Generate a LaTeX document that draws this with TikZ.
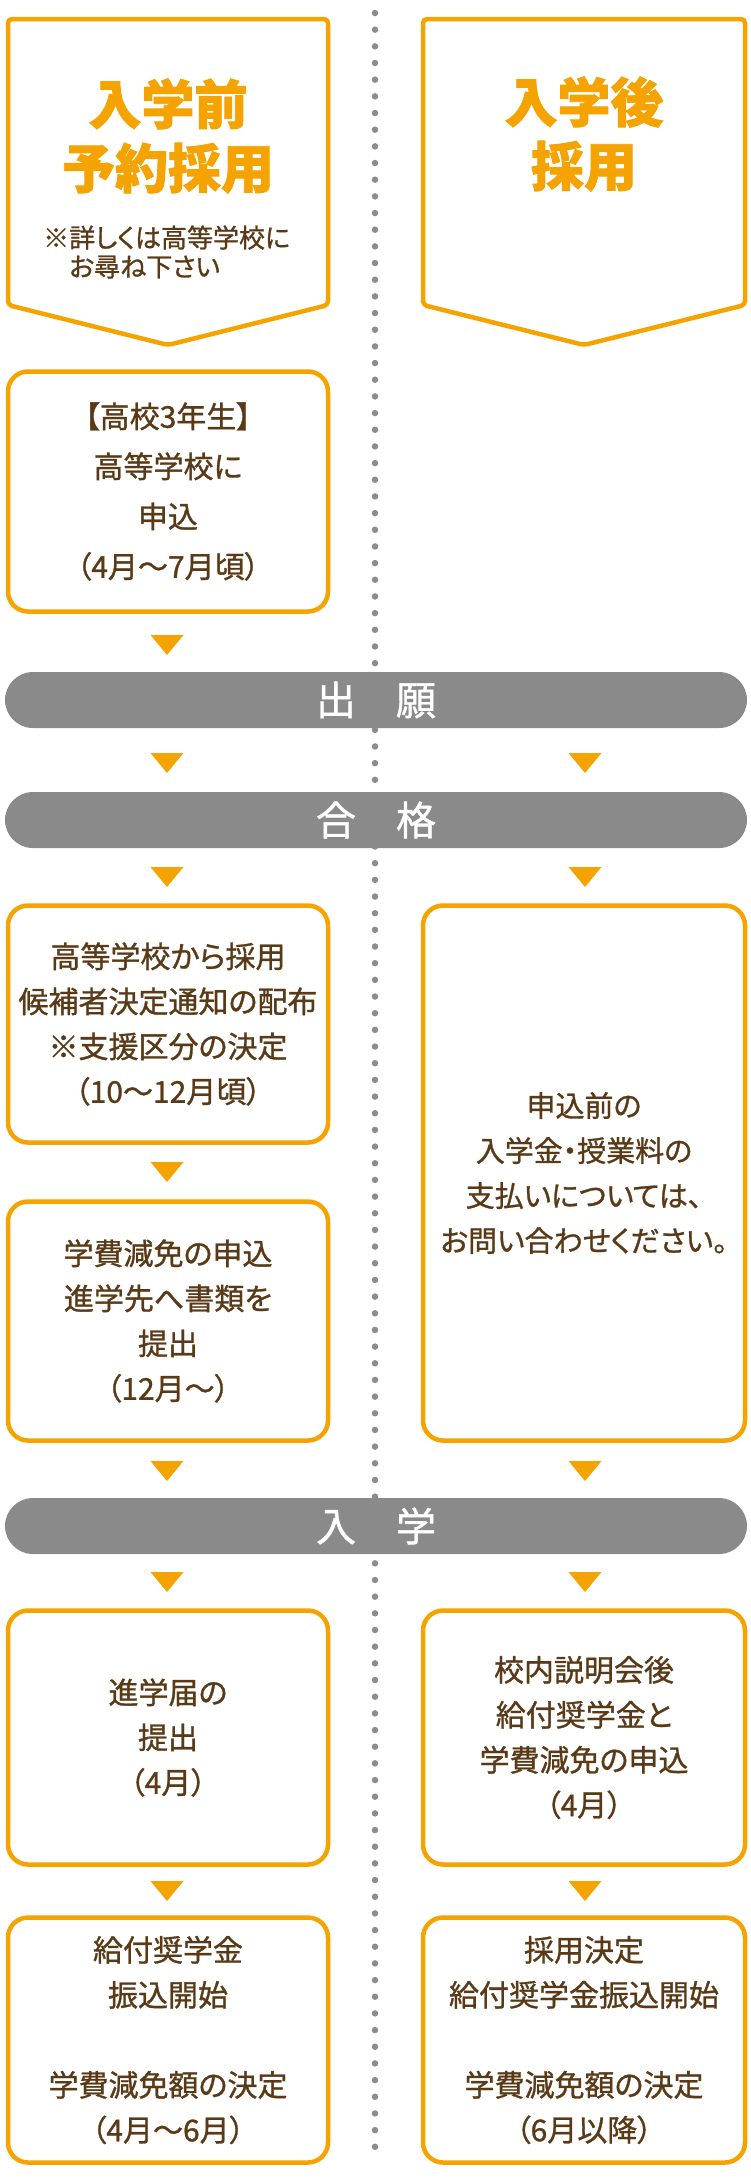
\documentclass[tikz,border=0pt]{standalone}
\usepackage{fontspec}
\setmainfont[RawFeature=+palt, UprightFeatures={FakeBold=1.0}, BoldFeatures={FakeBold=1.6}]{Noto Sans CJK JP}
\definecolor{org}{HTML}{F5A300}
\definecolor{brn}{HTML}{5A3A16}
\definecolor{gry}{HTML}{8A8A8A}
\definecolor{dotc}{HTML}{8C8C8C}
\tikzset{
  box/.style={draw=org, line width=4.5pt, rounded corners=20pt, fill=white,
    minimum width=320pt, align=center, text=brn, inner sep=0pt,
    font=\fontsize{30}{45}\selectfont},
  rbox/.style={box, minimum width=322pt},
  band/.style={fill=gry, rounded corners=28pt, minimum width=742pt,
    minimum height=56pt, text=white, inner sep=0pt,
    font=\fontsize{40}{40}\selectfont},
  title/.style={text=org, align=center, inner sep=0pt,
    font=\bfseries\fontsize{53}{64}\selectfont},
  pent/.style={draw=org, line width=4.5pt, rounded corners=4pt, line join=round, fill=white},
  dotline/.style={draw=dotc, line width=6.5pt, line cap=round, dash pattern=on 0pt off 16.67pt},
  downtri/.pic={\fill[org] (-16.5,0) -- (16.5,0) -- (0,20) -- cycle;}
}
\begin{document}
\begin{tikzpicture}[x=1pt,y=-1pt]
\useasboundingbox (0,0) rectangle (750,2180);
% dotted divider
\coordinate (dtop) at (375,13);
\coordinate (dbot) at (375,2163);
\draw[dotline] (dtop) -- (dbot);
% header pentagons
\draw[pent] (8,19) -- (328,19) -- (328,305) -- (168,345) -- (8,305) -- cycle;
\draw[pent] (423,19) -- (745,19) -- (745,305) -- (584,345) -- (423,305) -- cycle;
\node[title] (tl) at (168,136) {入学前\\予約採用};
\node[title] (tr) at (584,134) {入学後\\採用};
\node[anchor=west, align=left, text=brn, inner sep=0pt,
  font=\fontsize{26}{29}\selectfont] (note) at (43,252)
  {※詳しくは高等学校に\\\hspace*{26pt}お尋ね下さい};
% left column boxes
\node[box, minimum height=240pt, font=\fontsize{30}{50}\selectfont] (b2) at (168,491.5)
  {【高校3年生】\\高等学校に\\申込\\（4月～7月頃）};
\node[band] (shutsugan) at (376,700) {出　願};
\node[band] (goukaku) at (376,820) {合　格};
\node[box, minimum height=237pt] (b3) at (168,1024)
  {高等学校から採用\\候補者決定通知の配布\\※支援区分の決定\\（10～12月頃）};
\node[box, minimum height=239pt] (b4) at (168,1321)
  {学費減免の申込\\進学先へ書類を\\提出\\（12月～）};
\node[rbox, minimum height=535pt, font=\fontsize{29}{45}\selectfont] (r3) at (584,1173)
  {申込前の\\入学金・授業料の\\支払いについては、\\お問い合わせください。};
\node[band] (nyugaku) at (376,1526) {入　学};
\node[box, minimum height=254pt] (b5) at (168,1737.5)
  {進学届の\\提出\\（4月）};
\node[rbox, minimum height=254pt] (r5) at (584,1737.5)
  {校内説明会後\\給付奨学金と\\学費減免の申込\\（4月）};
\node[box, minimum height=245pt] (b6) at (168,2040)
  {給付奨学金\\振込開始\\[45pt]学費減免額の決定\\（4月～6月）};
\node[rbox, minimum height=245pt] (r6) at (584,2040)
  {採用決定\\給付奨学金振込開始\\[45pt]学費減免額の決定\\（6月以降）};
% triangles
\foreach \y in {635,753,867,1162,1461,1572,1881} \pic at (167,\y) {downtri};
\foreach \y in {753,867,1461,1572,1881} \pic at (585,\y) {downtri};
\end{tikzpicture}
\end{document}
